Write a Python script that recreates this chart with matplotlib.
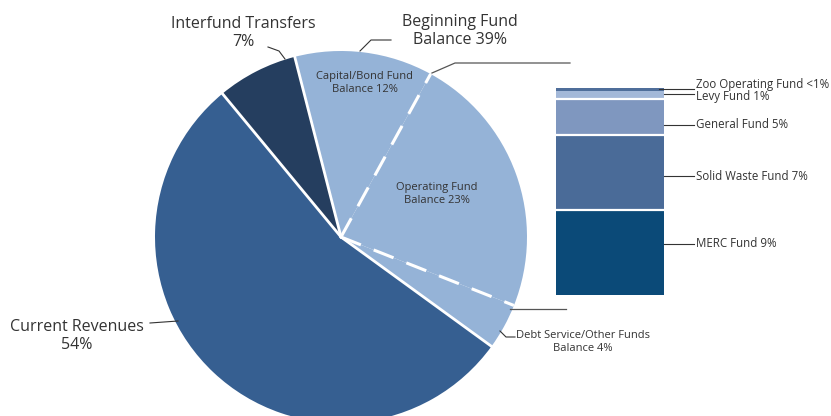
import numpy as np
import matplotlib.pyplot as plt

plt.rcParams['font.family'] = ['Open Sans', 'DejaVu Sans']

# pie data (percent of total resources)
pie_labels = ["Debt Service/Other Funds\nBalance 4%", "Operating Fund\nBalance 23%",
              "Capital/Bond Fund\nBalance 12%", "Interfund Transfers\n7%", "Current Revenues\n54%"]
pie_values = [4, 23, 12, 7, 54]
pie_colors = ["#95b3d7", "#95b3d7", "#95b3d7", "#253e5f", "#365f91"]

# breakdown of operating fund balance
bar_labels = ["MERC Fund 9%", "Solid Waste Fund 7%", "General Fund 5%", "Levy Fund 1%", "Zoo Operating Fund <1%"]
bar_values = [9.5, 8.3, 4.0, 0.9, 0.3]
bar_colors = ["#0b4a78", "#4a6b98", "#7f97bf", "#a3b8d8", "#4f6e9a"]

W, H = 831, 416
fig = plt.figure(figsize=(W / 100, H / 100), dpi=100)
ax = fig.add_axes([0, 0, 1, 1])

cx, cy, r = 341, H - 237, 186
start = -36
ax.pie(pie_values, colors=pie_colors, startangle=start, center=(cx, cy), radius=r,
       counterclock=True, frame=True,
       wedgeprops=dict(linewidth=0.6, edgecolor=None))
ax.set_xlim(0, W)
ax.set_ylim(0, H)
ax.set_aspect('auto')
ax.axis('off')

# boundaries
edges = start + np.cumsum([0] + pie_values) * 3.6
for i, a in enumerate(edges[:-1]):
    t = np.radians(a)
    x2, y2 = cx + r * np.cos(t), cy + r * np.sin(t)
    if i in (1, 2):
        ax.plot([cx, x2], [cy, y2], color="white", lw=2.2, dashes=(7, 4.5), solid_capstyle='butt')
    else:
        ax.plot([cx, x2], [cy, y2], color="white", lw=2)

txt = "#333333"
# small in-pie labels
ax.text(365, H - 83, pie_labels[2], ha='center', va='center', fontsize=8, color=txt, linespacing=1.3)
ax.text(437, H - 194, pie_labels[1], ha='center', va='center', fontsize=8, color=txt, linespacing=1.3)
ax.text(583, H - 342, pie_labels[0], ha='center', va='center', fontsize=8, color=txt, linespacing=1.3)
ax.plot([500, 506, 515], [H - 331, H - 337, H - 337], color="#333", lw=0.8)

# outer labels
ax.text(243, H - 33, pie_labels[3], ha='center', va='center', fontsize=11.5, color=txt, linespacing=1.15)
ax.plot([268, 279, 285], [H - 47, H - 51, H - 59], color="#333", lw=0.8)
ax.text(460, H - 31, "Beginning Fund\nBalance 39%", ha='center', va='center', fontsize=11.5, color=txt, linespacing=1.15)
ax.plot([360, 371, 391], [H - 51, H - 40, H - 40], color="#333", lw=0.8)
ax.text(77, H - 336, pie_labels[4], ha='center', va='center', fontsize=11.5, color=txt, linespacing=1.15)
ax.plot([150, 178], [H - 323, H - 321], color="#333", lw=0.8)

# bracket lines to the breakdown bar
ax.plot([432, 455, 570], [H - 73, H - 63, H - 63], color="#555", lw=0.9)
ax.plot([510, 566], [H - 309, H - 309], color="#555", lw=0.9)

# stacked bar
bx = fig.add_axes([556 / W, (H - 295) / H, 108 / W, 207 / H])
bottom = 0
for v, c in zip(bar_values, bar_colors):
    bx.bar(0, v, bottom=bottom, width=1, color=c, linewidth=0)
    bottom += v
    if bottom < sum(bar_values) - 0.5:
        bx.axhline(bottom, color="white", lw=1.6)
bx.set_xlim(-0.5, 0.5)
bx.set_ylim(0, sum(bar_values))
bx.axis('off')

# bar labels (y in bar data units)
label_y = [5.7, 13.2, 18.9, 22.0, 23.4]
line_y = [5.7, 13.2, 18.9, 22.3, 22.85]
line_x0 = [0.5, 0.5, 0.5, 0.5, 0.45]
for lab, ly, ln, lx in zip(bar_labels, label_y, line_y, line_x0):
    bx.plot([lx, 0.78], [ln, ln], color="#333", lw=0.8, clip_on=False)
    bx.text(0.8, ly, lab, ha='left', va='center', fontsize=8.3, color=txt, clip_on=False)

fig.savefig("out.png", dpi=100)
